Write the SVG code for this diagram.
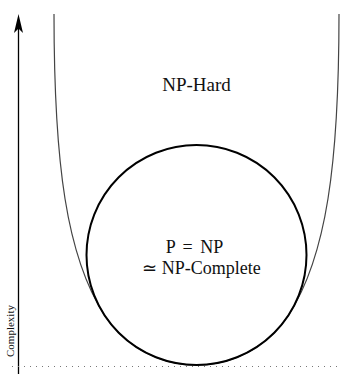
<svg xmlns="http://www.w3.org/2000/svg" width="344" height="374" viewBox="0 0 344 374">
<style>
.lbl{font-family:"Liberation Serif","Times New Roman",serif;fill:#111;text-anchor:middle}
.thin{fill:none;stroke:#444;stroke-width:1.2}
.thick{fill:none;stroke:#000;stroke-width:2}
</style>
<rect width="344" height="374" fill="#fff"/>
<g id="axis">
<line x1="18.5" y1="374" x2="18.5" y2="24" stroke="#000" stroke-width="1.3"/>
<path d="M18.5,14 L23,33 L18.5,28.5 L14,33 Z" fill="#000"/>
<text class="lbl" transform="translate(13.5,331) rotate(-90)" font-size="11">Complexity</text>
</g>
<g id="baseline">
<line x1="12" y1="366.5" x2="342" y2="366.5" stroke="#777" stroke-width="1" stroke-dasharray="1,5"/>
</g>
<g id="np-hard">
<path class="thin" d="M54,14 C54,164 66.6,256.3 104.3,315 A110,110 0 0 0 288.7,315 C326.4,256.3 339,164 339,14"/>
<text class="lbl" x="196.5" y="91" font-size="19">NP-Hard</text>
</g>
<g id="p-np">
<circle class="thick" cx="196.5" cy="255" r="110"/>
<text class="lbl" x="194.5" y="253" font-size="18" word-spacing="3">P = NP</text>
<text class="lbl" x="201.5" y="274" font-size="18">≃ NP-Complete</text>
</g>
</svg>
